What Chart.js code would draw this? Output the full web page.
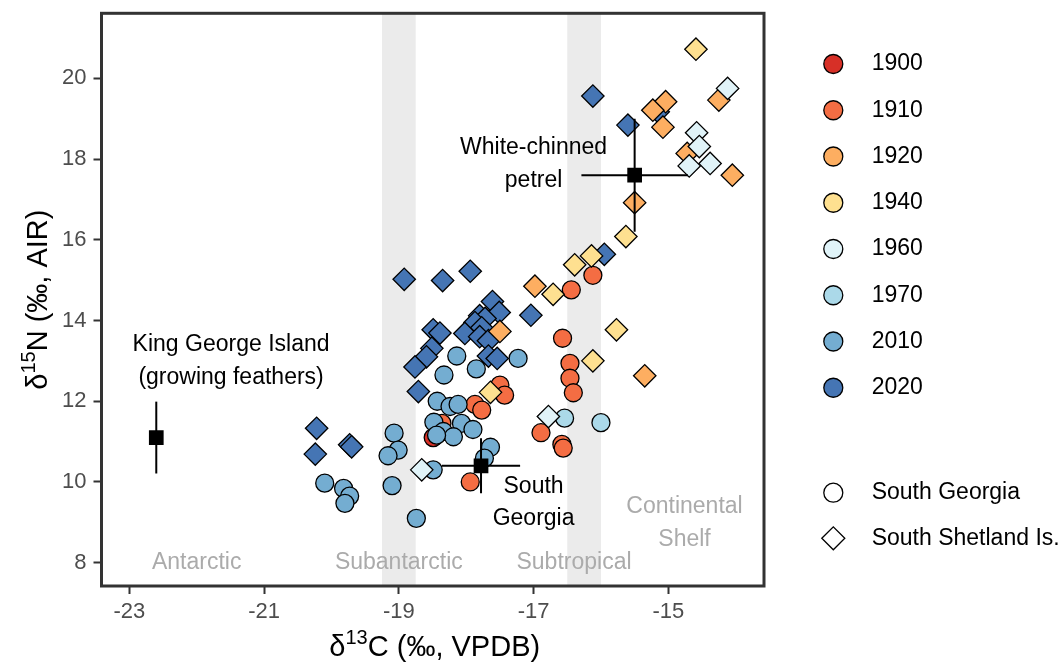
<!DOCTYPE html>
<html><head><meta charset="utf-8">
<script src="https://cdn.jsdelivr.net/npm/chart.js@4.4.1/dist/chart.umd.min.js"></script>
<style>html,body{margin:0;padding:0;background:#fff}canvas{display:block}</style>
</head><body>
<canvas id="c" width="1062" height="666"></canvas>
<script>
// ---------- data ----------
const years = ['1900','1910','1920','1940','1960','1970','2010','2020'];
const yearColors = ['#D73027','#F46D43','#FDAE61','#FEE090','#E0F3F8','#ABD9E9','#74ADD1','#4575B4'];
const xTicks = [-23,-21,-19,-17,-15];
const yTicks = [8,10,12,14,16,18,20];

// South Georgia (circles)
const sg1900 = [[-18.49,11.10]];
const sg1910 = [[-16.12,15.12],[-16.44,14.76],[-16.57,13.56],[-16.46,12.94],[-16.46,12.57],[-16.41,12.21],
  [-16.89,11.22],[-16.58,10.93],[-16.56,10.84],[-17.50,12.40],[-17.43,12.15],[-17.87,11.92],[-17.77,11.78],
  [-18.36,11.45],[-17.94,10.00]];
const sg1970 = [[-16.54,11.58],[-16.00,11.47]];
const sg2010 = [[-18.14,13.12],[-17.23,13.06],[-17.85,12.80],[-18.33,12.65],[-18.43,12.00],[-18.24,11.87],
  [-18.12,11.92],[-18.48,11.48],[-18.07,11.45],[-17.90,11.30],[-18.34,11.25],[-18.19,11.12],[-18.44,11.16],
  [-17.64,10.86],[-17.73,10.59],[-18.49,10.30],[-19.07,11.21],[-19.01,10.79],[-19.16,10.65],[-19.10,9.91],
  [-20.10,9.97],[-19.82,9.84],[-19.73,9.65],[-19.80,9.47],[-18.74,9.10]];

// South Shetland Is. (diamonds)
const ss1920 = [[-17.50,13.73],[-16.98,14.85],[-15.35,12.63],[-15.04,19.42],[-15.23,19.21],[-15.08,18.79],
  [-14.25,19.46],[-14.72,18.14],[-14.05,17.60],[-15.50,16.92]];
const ss1940 = [[-14.59,20.72],[-15.63,16.08],[-16.14,15.60],[-16.39,15.38],[-16.71,14.65],[-15.77,13.77],
  [-16.12,13.00],[-17.64,12.22]];
const ss1960 = [[-14.12,19.75],[-14.58,18.65],[-14.54,18.31],[-14.69,17.83],[-14.38,17.89],[-16.78,11.62],[-18.66,10.30]];
const ss2020 = [[-18.92,15.02],[-18.35,14.99],[-17.94,15.22],[-17.04,14.13],[-15.95,15.64],[-16.12,19.56],
  [-15.60,18.84],[-15.15,19.17],[-20.22,11.33],[-20.24,10.69],[-19.73,10.92],[-19.70,10.87],
  [-17.61,14.47],[-17.51,14.20],[-17.80,14.12],[-17.72,14.05],[-17.87,13.95],[-17.77,13.82],[-18.02,13.68],
  [-17.80,13.60],[-17.67,13.50],[-17.67,13.12],[-17.54,13.06],[-18.49,13.77],[-18.39,13.69],[-18.51,13.31],
  [-18.59,13.10],[-18.76,12.85],[-18.71,12.24]];

// reference means with SD
const refNames = ['King George Island','South Georgia','White-chinned petrel'];
const refX = [-22.6,-17.78,-15.5];
const refY = [11.1,10.4,17.6];
const refXerr = [0,0.58,0.79];
const refYerr = [0.89,0.68,1.4];

// water mass bands
const bandStart = [-19.25,-16.5];
const bandEnd = [-18.75,-16.0];

// ---------- styling / layout ----------
const FF = '"Liberation Sans", Arial, Helvetica, sans-serif';
const pts = a => a.map(([x,y]) => ({x,y}));
const col = y => yearColors[years.indexOf(y)];

const drawSeq = [
  {label:'SG 1900', d:sg1900, c:col('1900'), s:'circle'},
  {label:'SG 1910', d:sg1910, c:col('1910'), s:'circle'},
  {label:'SG 2010', d:sg2010, c:col('2010'), s:'circle'},
  {label:'SG 1970', d:sg1970, c:col('1970'), s:'circle'},
  {label:'SS 2020', d:ss2020, c:col('2020'), s:'rectRot'},
  {label:'SS 1920', d:ss1920, c:col('1920'), s:'rectRot'},
  {label:'SS 1940', d:ss1940, c:col('1940'), s:'rectRot'},
  {label:'SS 1960', d:ss1960, c:col('1960'), s:'rectRot'},
];
const N = drawSeq.length + 1;
const datasets = drawSeq.map((g,k) => ({
  label:g.label, data:pts(g.d), pointStyle:g.s,
  pointRadius: g.s==='circle' ? 9 : 11.2,
  backgroundColor:g.c, borderColor:'#000', borderWidth:1.3, order:N-k
}));
datasets.push({label:'ref', data:refX.map((x,i)=>({x, y:refY[i]})), pointStyle:'rect',
  pointRadius:10.4, backgroundColor:'#000', borderColor:'#000', borderWidth:0, order:0});
const REF = datasets.length - 1;

const regionText = [['Antarctic'],['Subantarctic'],['Subtropical'],['Continental','Shelf']];
const regionX = [-22.0,-19.0,-16.4,-14.76];
const regionY = [[8.0],[8.0],[8.0],[9.39,8.56]];

const annText = [['King George Island','(growing feathers)'],['South','Georgia'],['White-chinned','petrel']];
const annX = [-21.49,-17.0,-17.0];
const annY = [[13.39,12.58],[9.88,9.08],[18.29,17.46]];

const decor = {
  id:'decor',
  beforeDatasetsDraw(chart){
    const {ctx, chartArea:a, scales:{x,y}} = chart;
    ctx.save();
    ctx.fillStyle = '#EBEBEB';
    bandStart.forEach((b,i)=>{
      const x0 = x.getPixelForValue(b), x1 = x.getPixelForValue(bandEnd[i]);
      ctx.fillRect(x0, a.top, x1-x0, a.bottom-a.top);
    });
    ctx.fillStyle = '#ABABAB';
    ctx.font = `23px ${FF}`;
    ctx.textAlign = 'center'; ctx.textBaseline = 'middle';
    regionText.forEach((lines,i)=>lines.forEach((t,j)=>
      ctx.fillText(t, x.getPixelForValue(regionX[i]), y.getPixelForValue(regionY[i][j]))));
    ctx.restore();
  },
  beforeDatasetDraw(chart, args){
    if (args.index !== REF) return;
    const {ctx, scales:{x,y}} = chart;
    ctx.save();
    ctx.strokeStyle = '#000'; ctx.lineWidth = 2;
    refX.forEach((rx,i)=>{
      const px = x.getPixelForValue(rx), py = y.getPixelForValue(refY[i]);
      ctx.beginPath();
      ctx.moveTo(px, y.getPixelForValue(refY[i]-refYerr[i]));
      ctx.lineTo(px, y.getPixelForValue(refY[i]+refYerr[i]));
      if (refXerr[i] > 0) {
        ctx.moveTo(x.getPixelForValue(rx-refXerr[i]), py);
        ctx.lineTo(x.getPixelForValue(rx+refXerr[i]), py);
      }
      ctx.stroke();
    });
    ctx.restore();
  },
  afterDraw(chart){
    const {ctx, chartArea:a, scales:{x,y}} = chart;
    ctx.save();
    // annotations
    ctx.fillStyle = '#000';
    ctx.font = `23px ${FF}`;
    ctx.textAlign = 'center'; ctx.textBaseline = 'middle';
    annText.forEach((lines,i)=>lines.forEach((t,j)=>
      ctx.fillText(t, x.getPixelForValue(annX[i]), y.getPixelForValue(annY[i][j]))));
    // panel border
    ctx.strokeStyle = '#333333'; ctx.lineWidth = 3;
    ctx.strokeRect(a.left, a.top, a.right-a.left, a.bottom-a.top);
    // axis titles
    const rich = (parts, cx, cy) => {
      let tot = 0;
      parts.forEach(p=>{ctx.font = `${p.s}px ${FF}`; p.w = ctx.measureText(p.t).width; tot += p.w;});
      let cur = cx - tot/2;
      ctx.textAlign = 'left';
      parts.forEach(p=>{ctx.font = `${p.s}px ${FF}`; ctx.fillText(p.t, cur, cy + p.dy); cur += p.w;});
    };
    ctx.fillStyle = '#000'; ctx.textBaseline = 'middle';
    rich([{t:'δ',s:29,dy:0},{t:'13',s:20,dy:-10},{t:'C (‰, VPDB)',s:29,dy:0}], (a.left+a.right)/2 + 2, 648);
    ctx.save();
    ctx.translate(39, (a.top+a.bottom)/2);
    ctx.rotate(-Math.PI/2);
    rich([{t:'δ',s:29,dy:0},{t:'15',s:20,dy:-10},{t:'N (‰, AIR)',s:29,dy:0}], 0, 0);
    ctx.restore();
    // legend
    ctx.lineWidth = 1.3; ctx.strokeStyle = '#000';
    ctx.font = `23px ${FF}`; ctx.textAlign = 'left'; ctx.textBaseline = 'middle';
    const lx = 833.3, tx = 871.7;
    years.forEach((yr,i)=>{
      const ly = 64 + 46.25*i;
      ctx.beginPath(); ctx.arc(lx, ly, 9.5, 0, Math.PI*2);
      ctx.fillStyle = yearColors[i]; ctx.fill(); ctx.stroke();
      ctx.fillStyle = '#000'; ctx.fillText(yr, tx, ly);
    });
    let ly = 492.7;
    ctx.beginPath(); ctx.arc(lx, ly, 9.5, 0, Math.PI*2);
    ctx.fillStyle = '#fff'; ctx.fill(); ctx.stroke();
    ctx.fillStyle = '#000'; ctx.fillText('South Georgia', tx, ly);
    ly = 538.3;
    const r = 11.5;
    ctx.beginPath(); ctx.moveTo(lx-r, ly); ctx.lineTo(lx, ly-r); ctx.lineTo(lx+r, ly); ctx.lineTo(lx, ly+r); ctx.closePath();
    ctx.fillStyle = '#fff'; ctx.fill(); ctx.stroke();
    ctx.fillStyle = '#000'; ctx.fillText('South Shetland Is.', tx, ly);
    ctx.restore();
  }
};

const zeroPad = s => { s.paddingTop = 0; s.paddingBottom = 0; s.paddingLeft = 0; s.paddingRight = 0; };
const axisCommon = {
  type:'linear',
  grid:{display:true, drawOnChartArea:false, drawTicks:true, tickLength:8, tickWidth:2, tickColor:'#333333'},
  border:{display:false},
  title:{display:false}
};

new Chart(document.getElementById('c'), {
  type:'scatter',
  data:{datasets},
  plugins:[decor],
  options:{
    responsive:false, animation:false, events:[],
    devicePixelRatio:1,
    layout:{padding:{left:0, right:298, top:13.3, bottom:0}},
    plugins:{legend:{display:false}, tooltip:{enabled:false}},
    scales:{
      x:{...axisCommon, position:'bottom', min:-23.413, max:-13.58,
        afterBuildTicks:s=>{s.ticks = xTicks.map(v=>({value:v}));},
        afterFit:s=>{s.height = 80; zeroPad(s);},
        ticks:{font:{size:22, family:FF}, color:'#4D4D4D', padding:5, maxRotation:0, autoSkip:false}},
      y:{...axisCommon, position:'left', min:7.423, max:21.61,
        afterBuildTicks:s=>{s.ticks = yTicks.map(v=>({value:v}));},
        afterFit:s=>{s.width = 101.5; zeroPad(s);},
        ticks:{font:{size:22, family:FF}, color:'#4D4D4D', padding:7, autoSkip:false}}
    }
  }
});
</script>
</body></html>
